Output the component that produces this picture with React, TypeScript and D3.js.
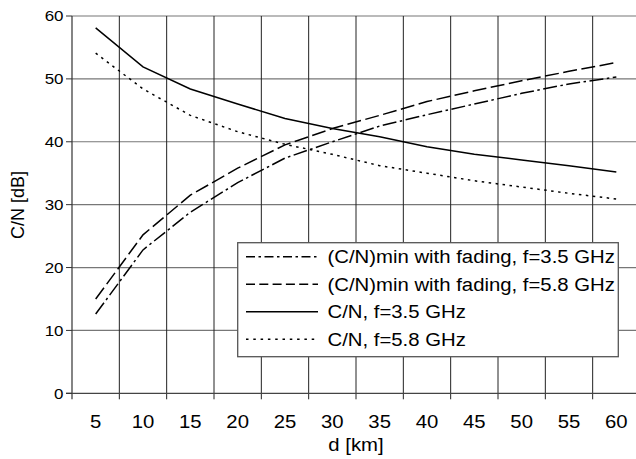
import React, { useEffect, useRef } from "react";
import * as d3 from "d3";

const distances = [5, 10, 15, 20, 25, 30, 35, 40, 45, 50, 55, 60];
const minFading35 = [12.6, 22.8, 28.8, 33.5, 37.4, 40.0, 42.5, 44.3, 46.0, 47.7, 49.2, 50.3];
const minFading58 = [15.0, 25.2, 31.5, 35.8, 39.5, 42.1, 44.2, 46.4, 48.1, 49.7, 51.2, 52.6];
const cn35 = [58.1, 51.9, 48.4, 46.0, 43.7, 42.1, 40.8, 39.2, 38.0, 37.1, 36.2, 35.2];
const cn58 = [54.1, 48.4, 44.2, 41.6, 39.6, 38.0, 36.2, 35.0, 33.8, 32.8, 31.8, 30.9];
const yTicks = [0, 10, 20, 30, 40, 50, 60];
const seriesNames = [
  "(C/N)min with fading, f=3.5 GHz",
  "(C/N)min with fading, f=5.8 GHz",
  "C/N, f=3.5 GHz",
  "C/N, f=5.8 GHz",
];

const width = 636;
const height = 459;
const margin = { top: 16, left: 72, bottom: 393.3, right: 640 };
const font = "'Liberation Sans', Arial, sans-serif";
const stretch = 1.13; // text in the picture is a bit wider than Arial

const series = [
  { values: minFading35, dash: "14,3.5,2.5,3.5", legendDash: "9,3.5,2.5,3.5" },
  { values: minFading58, dash: "14,4.5", legendDash: "9,4.3" },
  { values: cn35, dash: null, legendDash: null },
  { values: cn58, dash: "2.5,4.5", legendDash: "2.5,4.8" },
];

export default function App() {
  const ref = useRef<SVGSVGElement>(null);

  useEffect(() => {
    const svg = d3.select(ref.current);
    svg.selectAll("*").remove();

    const x = d3
      .scaleBand<number>()
      .domain(distances)
      .range([margin.left, margin.right]);
    const y = d3.scaleLinear().domain([0, 60]).range([margin.bottom, margin.top]);
    const cx = (d: number) => (x(d) as number) + x.bandwidth() / 2;

    // horizontal gridlines
    svg
      .append("g")
      .selectAll("line")
      .data(yTicks.filter((t) => t > 0))
      .enter()
      .append("line")
      .attr("x1", margin.left)
      .attr("x2", width)
      .attr("y1", (d) => y(d))
      .attr("y2", (d) => y(d))
      .attr("stroke", "#777")
      .attr("stroke-width", 1.2);

    // vertical gridlines at category boundaries
    svg
      .append("g")
      .selectAll("line")
      .data(distances.slice(1))
      .enter()
      .append("line")
      .attr("x1", (d) => x(d) as number)
      .attr("x2", (d) => x(d) as number)
      .attr("y1", margin.top)
      .attr("y2", margin.bottom + 6)
      .attr("stroke", "#222")
      .attr("stroke-width", 1);

    // axes
    svg
      .append("line")
      .attr("x1", margin.left)
      .attr("x2", margin.left)
      .attr("y1", margin.top)
      .attr("y2", margin.bottom + 6)
      .attr("stroke", "#333")
      .attr("stroke-width", 1.2);
    svg
      .append("line")
      .attr("x1", margin.left - 6)
      .attr("x2", width)
      .attr("y1", margin.bottom)
      .attr("y2", margin.bottom)
      .attr("stroke", "#444")
      .attr("stroke-width", 1.3);

    // y ticks + labels
    const yg = svg.append("g");
    yTicks.forEach((t) => {
      yg.append("line")
        .attr("x1", margin.left - 6)
        .attr("x2", margin.left)
        .attr("y1", y(t))
        .attr("y2", y(t))
        .attr("stroke", "#333");
      yg.append("text")
        .attr("transform", `translate(63.5,${y(t) + 5.4}) scale(${stretch},1)`)
        .attr("text-anchor", "end")
        .attr("font-family", font)
        .attr("font-size", 15)
        .text(t);
    });

    // x labels
    svg
      .append("g")
      .selectAll("text")
      .data(distances)
      .enter()
      .append("text")
      .attr("transform", (d) => `translate(${cx(d)},427.5) scale(${stretch},1)`)
      .attr("text-anchor", "middle")
      .attr("font-family", font)
      .attr("font-size", 18)
      .text((d) => d);

    svg
      .append("text")
      .attr("transform", `translate(356,451) scale(${stretch},1)`)
      .attr("text-anchor", "middle")
      .attr("font-family", font)
      .attr("font-size", 18)
      .text("d [km]");

    svg
      .append("text")
      .attr("transform", "translate(23.5,205) rotate(-90)")
      .attr("text-anchor", "middle")
      .attr("font-family", font)
      .attr("font-size", 18)
      .text("C/N [dB]");

    // series
    const line = d3
      .line<number>()
      .x((_, i) => cx(distances[i]))
      .y((d) => y(d));

    series.forEach((s) => {
      svg
        .append("path")
        .datum(s.values)
        .attr("d", line)
        .attr("fill", "none")
        .attr("stroke", "#000")
        .attr("stroke-width", 1.5)
        .attr("stroke-dasharray", s.dash);
    });

    // legend
    const lg = svg.append("g");
    lg.append("rect")
      .attr("x", 237.7)
      .attr("y", 242.7)
      .attr("width", 380.6)
      .attr("height", 114)
      .attr("fill", "#fff")
      .attr("stroke", "#555")
      .attr("stroke-width", 1.3);
    const rowY = d3.scalePoint<number>().domain([0, 1, 2, 3]).range([256.7, 339.3]);
    series.forEach((s, i) => {
      const ry = rowY(i) as number;
      lg.append("line")
        .attr("x1", 246)
        .attr("x2", 318)
        .attr("y1", ry)
        .attr("y2", ry)
        .attr("stroke", "#000")
        .attr("stroke-width", 1.5)
        .attr("stroke-dasharray", s.legendDash);
      lg.append("text")
        .attr("transform", `translate(327.5,${ry + 6.5}) scale(${stretch},1)`)
        .attr("font-family", font)
        .attr("font-size", 18)
        .text(seriesNames[i]);
    });
  }, []);

  return (
    <div style={{ position: "absolute", left: 0, top: 0 }}>
      <svg ref={ref} width={width} height={height} style={{ display: "block", background: "#fff" }} />
    </div>
  );
}
